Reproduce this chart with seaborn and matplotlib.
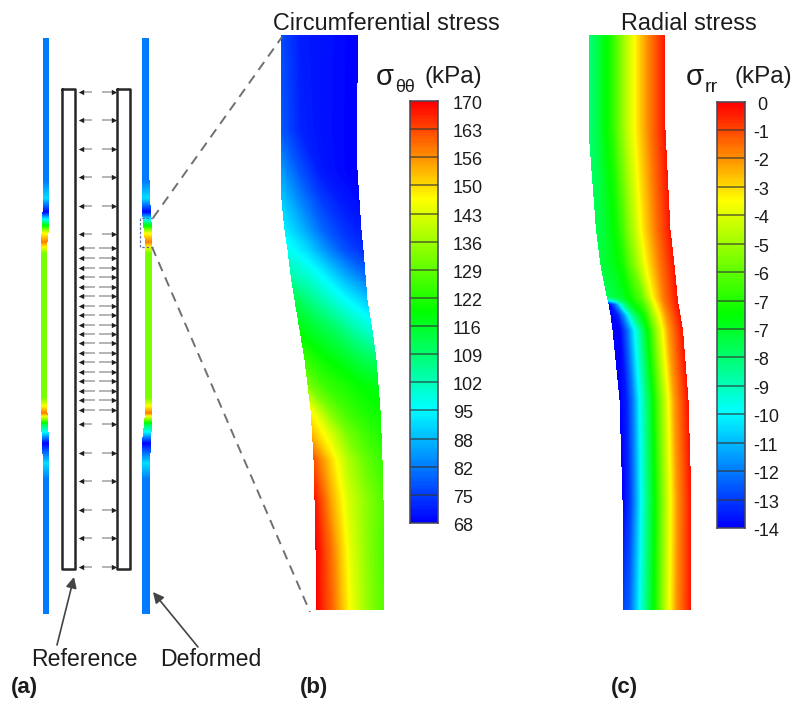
import numpy as np
import matplotlib
matplotlib.use("Agg")
import matplotlib.pyplot as plt
from matplotlib.colors import LinearSegmentedColormap
import seaborn as sns

sns.set_style("white")
plt.rcParams["font.family"] = ["Liberation Sans", "DejaVu Sans"]

W, H = 800, 709
TEXT = "#1c1c1c"

# ===== DATA =====
# colour bar labels
theta_labels = ["170", "163", "156", "150", "143", "136", "129", "122",
                "116", "109", "102", "95", "88", "82", "75", "68"]
radial_labels = [" 0", "-1", "-2", "-3", "-4", "-5", "-6", "-7",
                 "-7", "-8", "-9", "-10", "-11", "-12", "-13", "-14"]

# circumferential stress: wall edges and kPa across the thickness
theta_t = [0, 0.25, 0.5, 0.75, 1]
theta_y = [35, 130, 170, 200, 230, 250, 275, 300, 330, 360, 385, 410, 433, 460, 500, 550, 610]
theta_left = [282, 281, 281, 282, 285, 288, 291, 295, 300, 305, 308, 311, 312.5, 314, 315, 316, 316]
theta_right = [358, 356, 357, 359, 361, 363, 365, 367, 372, 376, 378, 380, 381, 382, 383, 384, 384]
theta_rows = [
    [76, 71, 70, 69, 68],
    [78, 72, 70, 69, 68],
    [85, 77, 71, 69, 68],
    [90, 82, 75, 71, 69],
    [94, 87, 79, 74, 71],
    [97, 92, 84, 77, 73],
    [103, 99, 93, 86, 80],
    [112, 106, 100, 95, 90],
    [118, 114, 110, 104, 99],
    [125, 120, 117, 113, 110],
    [132, 125, 122, 119, 117],
    [146, 133, 126, 122, 120],
    [152, 143, 132, 126, 122],
    [162, 150, 138, 130, 125],
    [168, 154, 142, 134, 128],
    [170, 158, 144, 134, 127],
    [170, 160, 146, 135, 128],
]

# radial stress
radial_t = [0, 0.1, 0.2, 0.3, 0.5, 0.65, 0.8, 1]
radial_y = [35, 130, 230, 265, 296, 300, 304, 315, 330, 400, 500, 610]
radial_left = [589, 589, 596.5, 601, 607, 608, 609, 611, 613, 620, 623, 623]
radial_right = [665, 665, 670, 674, 677, 677.5, 678, 680, 682.5, 688, 691, 691]
radial_rows = [
    [-8.5, -8.0, -7.2, -6.5, -4.2, -2.8, -1.6, -0.3],
    [-8.5, -8.0, -7.2, -6.5, -4.2, -2.8, -1.6, -0.3],
    [-8.0, -7.7, -7.2, -6.6, -4.4, -2.8, -1.6, -0.3],
    [-7.8, -7.5, -7.2, -6.7, -4.6, -2.9, -1.6, -0.3],
    [-8.0, -7.8, -7.5, -7.0, -5.5, -3.2, -1.6, -0.3],
    [-10.0, -9.0, -8.0, -7.2, -5.7, -3.3, -1.6, -0.3],
    [-14.0, -12.0, -9.0, -7.5, -6.0, -3.6, -1.7, -0.3],
    [-14.0, -13.5, -11.5, -9.0, -6.5, -4.0, -1.9, -0.3],
    [-14.0, -14.0, -12.5, -10.5, -7.0, -4.3, -2.0, -0.3],
    [-14.0, -13.5, -12.0, -10.0, -6.8, -4.3, -2.0, -0.3],
    [-14.0, -13.2, -11.5, -9.5, -6.5, -4.0, -1.9, -0.3],
    [-13.0, -12.5, -11.0, -9.2, -6.3, -3.8, -1.8, -0.3],
]

# thin wall strips in panel (a), kPa along the wall
strip_y = [38, 180, 198, 212, 222, 233, 242, 253, 398, 413, 425, 432, 443, 463, 480, 614]
strip_vals = [81, 81, 92, 68, 105, 145, 158, 132, 132, 158, 110, 95, 68, 92, 81, 81]
strip_a_left = [43.5, 43.5, 43, 43, 42.5, 42, 41.5, 41.5, 41.5, 41.5, 41.5, 42, 42.5, 43.5, 43.5, 43.5]
strip_a_right = [49, 49, 49, 49, 48.5, 48, 47, 46.5, 46.5, 47, 47.5, 48, 49, 49, 49, 49]
strip_b_left = [142.5, 142.5, 142.5, 142.5, 143.5, 144.5, 145.5, 145.5, 145.5, 145.5, 144.5, 143.5, 142.5, 142.5, 142.5, 142.5]
strip_b_right = [148.5, 149, 149.5, 150.5, 151, 151.5, 151.5, 151.5, 151.5, 151.5, 151.5, 151, 150.5, 149.5, 149.5, 149.5]

# pressure arrows
sparse_y = [92, 120, 149, 177, 206, 234, 424, 453, 481, 510, 538, 567]
dense_y = [248, 258, 268, 277, 287, 296, 306, 315, 325, 334,
           343, 353, 362, 372, 381, 391, 400, 410]

# ===== COLOURS =====
rainbow = LinearSegmentedColormap.from_list(
    "rainbow_small",
    [(0, "#0000ff"), (0.27, "#00ffff"), (0.5, "#00ff00"), (0.77, "#ffff00"), (1, "#ff0000")],
)


def pixel_axes(fig, left, top, right, bottom):
    return fig.add_axes([left / W, 1 - bottom / H, (right - left) / W, (bottom - top) / H])


def draw_wall(ax, t, y, left, right, values, vmin, vmax):
    t = np.array(t)
    y = np.array(y, dtype=float)
    xx = np.outer(np.array(left), 1 - t) + np.outer(np.array(right), t)
    yy = np.repeat(y[:, None], len(t), axis=1)
    levels = np.linspace(vmin, vmax, 160)
    # second pass smooths the outer edge, first pass hides the seams
    for smooth in (False, True):
        ax.contourf(xx, yy, np.array(values, dtype=float), levels=levels, cmap=rainbow,
                    vmin=vmin, vmax=vmax, extend="both", antialiased=smooth)


def draw_bar(fig, box, labels, vmin, vmax, gap_px):
    bar = pixel_axes(fig, *box)
    gradient = np.linspace(vmax, vmin, 300).reshape(-1, 1)
    sns.heatmap(gradient, ax=bar, cmap=rainbow, vmin=vmin, vmax=vmax, cbar=False,
                xticklabels=False, yticklabels=False)
    ticks = np.linspace(0, 300, len(labels))
    bar.hlines(ticks[1:-1], 0, 1, color="#333333", lw=1.1, alpha=0.75)
    # labels sit a little under their band lines, and past the bar end at the bottom
    label_x = 1 + gap_px / (box[2] - box[0])
    for tick, label in zip(ticks, labels):
        bar.text(label_x, tick + 2.5, label, fontsize=13, color=TEXT, ha="left", va="center", clip_on=False)
    for side in bar.spines.values():
        side.set_visible(True)
        side.set_color("#444455")
        side.set_linewidth(1.1)
    return bar


# ===== FIGURE =====
fig = plt.figure(figsize=(W / 100, H / 100), dpi=100)
ax = fig.add_axes([0, 0, 1, 1])
ax.set_xlim(0, W)
ax.set_ylim(H, 0)
ax.axis("off")

# panel (a): strips
strip_rows = [[v, v] for v in strip_vals]
draw_wall(ax, [0, 1], strip_y, strip_a_left, strip_a_right, strip_rows, 68, 170)
draw_wall(ax, [0, 1], strip_y, strip_b_left, strip_b_right, strip_rows, 68, 170)

# panel (a): reference rectangles
for x0, x1 in [(62, 75), (117, 130)]:
    ax.plot([x0, x1, x1, x0, x0], [89, 89, 569, 569, 89], color="#262626", lw=1.8)

# panel (a): arrows
for rows, x_left, x_right in [(sparse_y, 92, 102), (dense_y, 95, 99)]:
    ax.hlines(rows, 81, x_left, color="#a8a8a8", lw=1.2)
    ax.hlines(rows, x_right, 114, color="#a8a8a8", lw=1.2)
    ax.scatter([81] * len(rows), rows, marker="<", s=15, color="#1f1f1f", linewidths=0, zorder=3)
    ax.scatter([114] * len(rows), rows, marker=">", s=15, color="#1f1f1f", linewidths=0, zorder=3)

# zoom box and guide lines
ax.plot([153, 140, 140, 153], [218, 218, 247, 247], color="#5a6fb0", lw=0.9, ls=(0, (2, 1.5)))
ax.plot([153, 282], [218, 37], color="#707070", lw=1.4, ls=(0, (5, 3.5)))
ax.plot([152, 310], [247, 612], color="#707070", lw=1.4, ls=(0, (5, 3.5)))

# panels (b) and (c)
draw_wall(ax, theta_t, theta_y, theta_left, theta_right, theta_rows, 68, 170)
draw_wall(ax, radial_t, radial_y, radial_left, radial_right, radial_rows, -14, 0)

draw_bar(fig, (410, 101, 438, 523), theta_labels, 68, 170, 15)
draw_bar(fig, (717, 101.5, 745, 528), radial_labels, -14, 0, 8)

# annotation arrows
arrow_style = dict(arrowstyle="-|>", color="#444444", lw=1.2, mutation_scale=16, shrinkA=0, shrinkB=0)
ax.annotate("", xy=(74, 577), xytext=(57, 645), arrowprops=arrow_style)
ax.annotate("", xy=(153, 592), xytext=(198, 647), arrowprops=arrow_style)

# ===== TEXT =====
ax.text(386, 23, "Circumferential stress", fontsize=16.8, color=TEXT, ha="center", va="center")
ax.text(688.5, 23, "Radial stress", fontsize=16.8, color=TEXT, ha="center", va="center")

ax.text(376, 77, "σ", fontsize=21, color=TEXT, ha="left", va="center")
ax.text(395, 87, "θθ", fontsize=13, color=TEXT, ha="left", va="center")
ax.text(425, 77, "(kPa)", fontsize=17.5, color=TEXT, ha="left", va="center")

ax.text(686, 77, "σ", fontsize=21, color=TEXT, ha="left", va="center")
ax.text(705, 87, "rr", fontsize=14, color=TEXT, ha="left", va="center")
ax.text(735, 77, "(kPa)", fontsize=17.5, color=TEXT, ha="left", va="center")

ax.text(31, 660, "Reference", fontsize=16.6, color=TEXT, ha="left", va="center")
ax.text(160, 660, "Deformed", fontsize=16.6, color=TEXT, ha="left", va="center")
ax.text(11, 688, "(a)", fontsize=16, color=TEXT, fontweight="bold", ha="left", va="center")
ax.text(300, 688, "(b)", fontsize=16, color=TEXT, fontweight="bold", ha="left", va="center")
ax.text(611, 688, "(c)", fontsize=16, color=TEXT, fontweight="bold", ha="left", va="center")

fig.savefig("out.png", dpi=100)
